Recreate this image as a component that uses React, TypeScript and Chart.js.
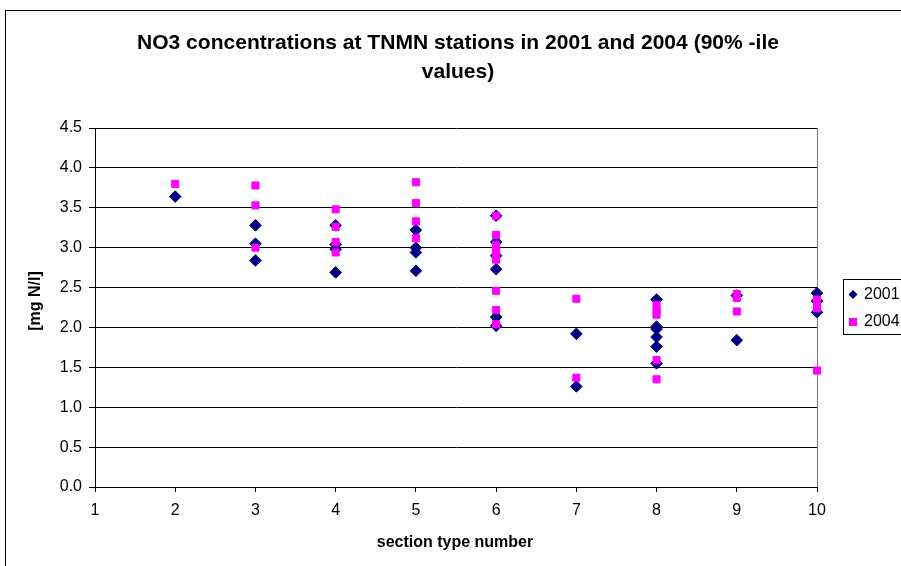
import React, { useEffect, useRef } from "react";
import { Chart, registerables } from "chart.js";

Chart.register(...registerables);

const titleLines = ["NO3 concentrations at TNMN stations in 2001 and 2004 (90% -ile", "values)"];
const xTitle = "section type number";
const yTitle = "[mg N/l]";
const seriesNames = ["2001", "2004"];

const sections2001 = [2, 3, 3, 3, 4, 4, 4, 4, 5, 5, 5, 5, 6, 6, 6, 6, 6, 6, 7, 7, 8, 8, 8, 8, 8, 8, 9, 9, 10, 10, 10];
const no3_2001 = [3.64, 3.28, 3.05, 2.84, 3.28, 3.04, 2.98, 2.69, 3.22, 3.0, 2.94, 2.71, 3.4, 3.07, 2.9, 2.73, 2.13, 2.02, 1.92, 1.26, 2.35, 2.01, 1.98, 1.88, 1.76, 1.55, 2.4, 1.84, 2.43, 2.33, 2.19];

const sections2004 = [2, 3, 3, 3, 4, 4, 4, 4, 5, 5, 5, 5, 6, 6, 6, 6, 6, 6, 6, 6, 6, 7, 7, 8, 8, 8, 8, 8, 9, 9, 9, 10, 10, 10, 10];
const no3_2004 = [3.8, 3.78, 3.53, 3.0, 3.48, 3.26, 3.07, 2.94, 3.82, 3.56, 3.33, 3.12, 3.4, 3.16, 3.03, 2.97, 2.91, 2.85, 2.46, 2.22, 2.04, 2.36, 1.37, 2.28, 2.21, 2.16, 1.59, 1.35, 2.42, 2.37, 2.2, 2.35, 2.29, 2.24, 1.46];

const xMin = 1;
const xMax = 10;
const yMin = 0;
const yMax = 4.5;

const NAVY = "#000080";
const MAGENTA = "#FF00FF";
const FONT = "'Liberation Sans', Arial, sans-serif";

const decorPlugin = {
  id: "decor",
  afterDraw(chart: any) {
    const ctx = chart.ctx as CanvasRenderingContext2D;
    const area = chart.chartArea;
    ctx.save();
    // outer frame
    ctx.strokeStyle = "#000";
    ctx.lineWidth = 1;
    ctx.strokeRect(5.5, 10.5, 1200, 1200);

    ctx.fillStyle = "#000";
    // title
    ctx.font = `bold 21px ${FONT}`;
    ctx.textAlign = "left";
    ctx.textBaseline = "alphabetic";
    const w1 = ctx.measureText(titleLines[0]).width;
    const sx = 642 / w1;
    const cx = 458;
    titleLines.forEach((line, i) => {
      const w = ctx.measureText(line).width * sx;
      ctx.save();
      ctx.translate(cx - w / 2, 49 + i * 29);
      ctx.scale(sx, 1);
      ctx.fillText(line, 0, 0);
      ctx.restore();
    });

    // axis titles
    ctx.font = `bold 16px ${FONT}`;
    ctx.textAlign = "center";
    ctx.textBaseline = "middle";
    ctx.fillText(xTitle, 455, 543);
    ctx.save();
    ctx.translate(36, 301);
    ctx.rotate(-Math.PI / 2);
    ctx.fillText(yTitle, 0, 0);
    ctx.restore();

    // legend
    ctx.strokeStyle = "#000";
    ctx.lineWidth = 1;
    ctx.strokeRect(843.5, 279.5, 200, 55);
    ctx.fillStyle = NAVY;
    ctx.beginPath();
    ctx.moveTo(853, 290);
    ctx.lineTo(857.5, 294.5);
    ctx.lineTo(853, 299);
    ctx.lineTo(848.5, 294.5);
    ctx.closePath();
    ctx.fill();
    ctx.fillStyle = MAGENTA;
    ctx.fillRect(849, 318, 8, 8);
    ctx.fillStyle = "#000";
    ctx.font = `16px ${FONT}`;
    ctx.textAlign = "left";
    ctx.fillText(seriesNames[0], 864, 295);
    ctx.fillText(seriesNames[1], 864, 322);
    ctx.restore();
  },
  beforeDatasetsDraw(chart: any) {
    const ctx = chart.ctx as CanvasRenderingContext2D;
    const area = chart.chartArea;
    ctx.save();
    ctx.strokeStyle = "#808080";
    ctx.lineWidth = 1;
    ctx.beginPath();
    ctx.moveTo(Math.round(area.right) + 0.5, area.top);
    ctx.lineTo(Math.round(area.right) + 0.5, area.bottom);
    ctx.stroke();
    ctx.restore();
  },
};

export default function App() {
  const canvasRef = useRef<HTMLCanvasElement | null>(null);

  useEffect(() => {
    if (!canvasRef.current) return;
    const data2001 = sections2001.map((x, i) => ({ x, y: no3_2001[i] }));
    const data2004 = sections2004.map((x, i) => ({ x, y: no3_2004[i] }));
    const chart = new Chart(canvasRef.current, {
      type: "scatter",
      data: {
        datasets: [
          {
            label: seriesNames[0],
            data: data2001,
            pointStyle: "rectRot",
            pointRadius: 5.8,
            pointHoverRadius: 5.8,
            backgroundColor: NAVY,
            borderColor: NAVY,
            borderWidth: 1,
            clip: false,
            order: 1,
          },
          {
            label: seriesNames[1],
            data: data2004,
            pointStyle: "rect",
            pointRadius: 5,
            pointHoverRadius: 5,
            backgroundColor: MAGENTA,
            borderColor: MAGENTA,
            borderWidth: 1,
            clip: false,
            order: 0,
          },
        ],
      },
      options: {
        responsive: false,
        animation: false,
        events: [],
        layout: { padding: { left: 0, right: 84, top: 128, bottom: 0 } },
        plugins: {
          legend: { display: false },
          title: { display: false },
          tooltip: { enabled: false },
        },
        scales: {
          x: {
            type: "linear",
            min: xMin,
            max: xMax,
            afterFit: (s: any) => {
              s.height = 79;
            },
            ticks: {
              stepSize: 1,
              color: "#000",
              font: { family: FONT, size: 16 },
              padding: 9,
              maxRotation: 0,
            },
            grid: {
              display: true,
              drawOnChartArea: false,
              drawTicks: true,
              tickLength: 5,
              color: "#000",
            },
            border: { display: true, color: "#000", width: 1 },
          },
          y: {
            type: "linear",
            min: yMin,
            max: yMax,
            afterFit: (s: any) => {
              s.width = 95;
            },
            ticks: {
              stepSize: 0.5,
              color: "#000",
              font: { family: FONT, size: 16 },
              padding: 7,
              callback: (v: any) => Number(v).toFixed(1),
            },
            grid: {
              display: true,
              drawTicks: true,
              tickLength: 6,
              color: "#000",
              tickColor: "#000",
            },
            border: { display: true, color: "#000", width: 1 },
          },
        },
      },
      plugins: [decorPlugin],
    });
    return () => chart.destroy();
  }, []);

  return (
    <div style={{ position: "absolute", left: 0, top: 0, width: 901, height: 566, background: "#fff", overflow: "hidden" }}>
      <canvas ref={canvasRef} width={901} height={566} style={{ width: 901, height: 566, display: "block" }} />
    </div>
  );
}
